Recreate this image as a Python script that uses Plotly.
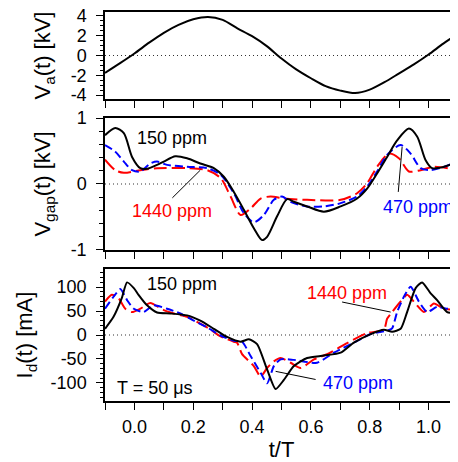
import plotly.graph_objects as go
from plotly.subplots import make_subplots

# ---- data ----
t_va = [-0.1, -0.05, 0.0, 0.05, 0.1, 0.15, 0.2, 0.25, 0.3, 0.35, 0.4, 0.45, 0.5,
        0.55, 0.6, 0.65, 0.7, 0.75, 0.8, 0.85, 0.9, 0.95, 1.0, 1.05, 1.1]
va = [-1.76, -0.8, 0.2, 1.3, 2.3, 3.1, 3.66, 3.9, 3.6, 2.75, 1.95, 0.95, -0.3,
      -1.4, -2.3, -3.1, -3.55, -3.8, -3.45, -2.7, -1.8, -0.9, 0.1, 1.2, 2.2]

t_gap_150 = [-0.1, -0.065, -0.036, -0.008, 0.02, 0.043, 0.077, 0.1, 0.139, 0.179, 0.224,
             0.27, 0.304, 0.338, 0.372, 0.406, 0.434, 0.451, 0.485, 0.519, 0.542, 0.587,
             0.644, 0.701, 0.757, 0.791, 0.825, 0.859, 0.893, 0.933, 0.961, 0.99, 1.012,
             1.052, 1.1]
gap_150 = [0.74, 0.85, 0.77, 0.41, 0.24, 0.23, 0.29, 0.34, 0.42, 0.39, 0.31,
           0.24, 0.11, -0.12, -0.39, -0.67, -0.85, -0.8, -0.49, -0.23, -0.27, -0.34,
           -0.42, -0.34, -0.22, -0.07, 0.16, 0.41, 0.66, 0.84, 0.72, 0.36, 0.24,
           0.26, 0.34]

t_gap_470 = [-0.1, -0.065, -0.036, -0.008, 0.02, 0.054, 0.077, 0.111, 0.179, 0.247, 0.293,
             0.338, 0.372, 0.406, 0.44, 0.474, 0.502, 0.53, 0.587, 0.644, 0.701, 0.757,
             0.791, 0.825, 0.859, 0.905, 0.939, 0.973, 1.007, 1.052, 1.1]
gap_470 = [0.59, 0.49, 0.34, 0.21, 0.19, 0.31, 0.34, 0.29, 0.26, 0.24, 0.14,
           -0.14, -0.44, -0.58, -0.47, -0.24, -0.19, -0.27, -0.34, -0.34, -0.29, -0.19,
           -0.04, 0.19, 0.44, 0.59, 0.46, 0.24, 0.21, 0.26, 0.34]

t_gap_1440 = [-0.1, -0.065, -0.036, 0.02, 0.077, 0.179, 0.247, 0.293, 0.327, 0.361, 0.395,
              0.429, 0.463, 0.508, 0.587, 0.701, 0.757, 0.791, 0.825, 0.865, 0.899, 0.933,
              0.973, 1.018, 1.1]
gap_1440 = [0.37, 0.21, 0.17, 0.21, 0.24, 0.24, 0.21, 0.09, -0.19, -0.47, -0.37,
            -0.22, -0.19, -0.22, -0.24, -0.24, -0.14, 0.01, 0.26, 0.46, 0.39, 0.19,
            0.21, 0.26, 0.21]

t_id_150 = [-0.1, -0.071, -0.043, -0.025, -0.002, 0.014, 0.043, 0.077, 0.122, 0.179, 0.224,
            0.27, 0.315, 0.361, 0.389, 0.417, 0.451, 0.48, 0.508, 0.542, 0.587, 0.644,
            0.701, 0.746, 0.803, 0.848, 0.876, 0.905, 0.927, 0.956, 0.978, 1.007, 1.029,
            1.063, 1.1]
id_150 = [13, 38, 77, 110, 98, 84, 62, 47, 45, 41, 30,
          13, -4, -14, -9, -19, -72, -113, -94, -65, -48, -43,
          -37, -16, 2, 11, 7, 13, 48, 98, 110, 87, 73,
          48, 45]

t_id_470 = [-0.1, -0.071, -0.048, -0.025, -0.002, 0.031, 0.065, 0.111, 0.156, 0.202, 0.247,
            0.293, 0.338, 0.366, 0.395, 0.429, 0.451, 0.474, 0.497, 0.542, 0.621, 0.678,
            0.746, 0.803, 0.859, 0.876, 0.893, 0.916, 0.939, 0.967, 0.995, 1.029, 1.063, 1.1]
id_470 = [55, 80, 96, 73, 55, 48, 62, 55, 45, 30, 16,
          -1, -12, -14, -44, -79, -101, -65, -51, -52, -58, -37,
          -16, 2, 9, 14, 48, 80, 101, 70, 48, 59, 55, 62]

t_id_1440 = [-0.1, -0.077, -0.054, -0.031, -0.008, 0.02, 0.054, 0.1, 0.134, 0.179, 0.247,
             0.293, 0.338, 0.349, 0.366, 0.406, 0.429, 0.451, 0.474, 0.497, 0.531, 0.565,
             0.61, 0.655, 0.723, 0.791, 0.848, 0.859, 0.876, 0.905, 0.927, 0.955, 0.984,
             1.018, 1.052, 1.1]
id_1440 = [70, 84, 77, 55, 48, 55, 67, 52, 45, 38, 16,
           -3, -14, -16, -40, -65, -87, -69, -55, -48, -58, -69,
           -51, -40, -17, 4, 11, 34, 48, 70, 84, 66, 48,
           66, 55, 52]

# ---- figure ----
FONT = "Liberation Sans, Arial, Helvetica, sans-serif"
fig = make_subplots(rows=3, cols=1, shared_xaxes=False)

BLK, BLU, RED = "#000000", "#0000ff", "#ff0000"


def zero_line(row):
    fig.add_trace(go.Scatter(x=[-0.1, 1.1], y=[0, 0], mode="lines",
                             line=dict(color="#333333", width=1.2, dash="1px,3px"),
                             showlegend=False, hoverinfo="skip"), row=row, col=1)


zero_line(1)
fig.add_trace(go.Scatter(x=t_va, y=va, mode="lines",
                         line=dict(color=BLK, width=2, shape="spline", smoothing=0.8),
                         showlegend=False), row=1, col=1)

zero_line(2)
fig.add_trace(go.Scatter(x=t_gap_1440, y=gap_1440, mode="lines",
                         line=dict(color=RED, width=2, dash="13px,5px", shape="spline", smoothing=0.8),
                         showlegend=False), row=2, col=1)
fig.add_trace(go.Scatter(x=t_gap_470, y=gap_470, mode="lines",
                         line=dict(color=BLU, width=2, dash="8px,4px", shape="spline", smoothing=0.8),
                         showlegend=False), row=2, col=1)
fig.add_trace(go.Scatter(x=t_gap_150, y=gap_150, mode="lines",
                         line=dict(color=BLK, width=2, shape="spline", smoothing=0.8),
                         showlegend=False), row=2, col=1)

zero_line(3)
fig.add_trace(go.Scatter(x=t_id_1440, y=id_1440, mode="lines",
                         line=dict(color=RED, width=2, dash="13px,5px", shape="spline", smoothing=0.6),
                         showlegend=False), row=3, col=1)
fig.add_trace(go.Scatter(x=t_id_470, y=id_470, mode="lines",
                         line=dict(color=BLU, width=2, dash="8px,4px", shape="spline", smoothing=0.6),
                         showlegend=False), row=3, col=1)
fig.add_trace(go.Scatter(x=t_id_150, y=id_150, mode="lines",
                         line=dict(color=BLK, width=2, shape="spline", smoothing=0.6),
                         showlegend=False), row=3, col=1)

axis_common = dict(showline=True, linecolor="black", linewidth=1.5, ticks="outside",
                   tickcolor="black", showgrid=False, zeroline=False, automargin=False,
                   ticklabeloverflow="allow",
                   tickfont=dict(family=FONT, size=18, color="black"))

for r, dom in zip([1, 2, 3], [(0.7763, 1.0), (0.3882, 0.7275), (0.0, 0.3393)]):
    fig.update_xaxes(range=[-0.1, 1.1], tickmode="linear", tick0=0, dtick=0.2,
                     tickformat=".1f", showticklabels=(r == 3),
                     ticklen=7, tickwidth=1.2, mirror=True,
                     minor=dict(tickmode="linear", tick0=0, dtick=0.1, ticklen=7,
                                tickwidth=1.2, tickcolor="black", ticks="outside"),
                     **axis_common, row=r, col=1)
    fig.update_yaxes(domain=list(dom), row=r, col=1)

fig.update_xaxes(title=dict(text="t/T", font=dict(family=FONT, size=22, color="black"), standoff=6),
                 ticklabelstandoff=2, row=3, col=1)

fig.update_yaxes(range=[-4.4, 4.4], tickmode="array", tickvals=[-4, -2, 0, 2, 4],
                 ticktext=["-4", "-2", "0", "2", "4"], ticklen=7, tickwidth=1.2,
                 ticklabelstandoff=6,
                 minor=dict(tickmode="linear", dtick=0.5, tick0=0, ticklen=3, tickwidth=1,
                            tickcolor="black", ticks="outside"),
                 title=dict(text="V<sub>a</sub>(t) [kV]", font=dict(family=FONT, size=22, color="black"),
                            standoff=14),
                 **axis_common, row=1, col=1)
fig.update_yaxes(range=[-1, 1], tickmode="array", tickvals=[-1, 0, 1],
                 ticktext=["-1", "0", "1"], ticklen=7, tickwidth=1.2,
                 ticklabelstandoff=6,
                 minor=dict(tickmode="linear", dtick=0.2, tick0=0, ticklen=4, tickwidth=1,
                            tickcolor="black", ticks="outside"),
                 title=dict(text="V<sub>gap</sub>(t) [kV]", font=dict(family=FONT, size=22, color="black"),
                            standoff=14),
                 **axis_common, row=2, col=1)
fig.update_yaxes(range=[-138, 138], tickmode="array", tickvals=[-100, -50, 0, 50, 100],
                 ticktext=["-100", "-50", "0", "50", "100"], ticklen=7, tickwidth=1.2,
                 ticklabelstandoff=6,
                 minor=dict(tickmode="linear", dtick=10, tick0=0, ticklen=3, tickwidth=1,
                            tickcolor="black", ticks="outside"),
                 title=dict(text="I<sub>d</sub>(t) [mA]", font=dict(family=FONT, size=22, color="black"),
                            standoff=12),
                 **axis_common, row=3, col=1)


# ---- annotations ----
def ax_ref(row):
    s = "" if row == 1 else str(row)
    return "x" + s, "y" + s


def label(text, x, y, color, row):
    xr, yr = ax_ref(row)
    fig.add_annotation(text=text, x=x, y=y, xref=xr, yref=yr, showarrow=False,
                       font=dict(family=FONT, size=18, color=color))


def pointer(x0, y0, x1, y1, row):
    xr, yr = ax_ref(row)
    fig.add_shape(type="line", x0=x0, y0=y0, x1=x1, y1=y1, xref=xr, yref=yr,
                  line=dict(color="black", width=1))


label("150 ppm", 0.129, 0.69, BLK, 2)
label("1440 ppm", 0.129, -0.41, RED, 2)
pointer(0.129, -0.21, 0.224, 0.21, 2)
label("470 ppm", 0.963, -0.35, BLU, 2)
pointer(0.897, -0.12, 0.91, 0.56, 2)

label("150 ppm", 0.163, 107, BLK, 3)
label("1440 ppm", 0.724, 88, RED, 3)
pointer(0.706, 69, 0.871, 48, 3)
label("470 ppm", 0.759, -101, BLU, 3)
pointer(0.48, -76, 0.616, -93, 3)
label("T = 50 μs", 0.071, -110, BLK, 3)

# page body has an 8px default margin: size the figure so it fits the 458x462 window
fig.update_layout(width=450, height=454, margin=dict(l=97, r=0, t=4, b=61),
                  plot_bgcolor="white", paper_bgcolor="white",
                  font=dict(family=FONT, color="black"))

fig.write_html("out.html")
